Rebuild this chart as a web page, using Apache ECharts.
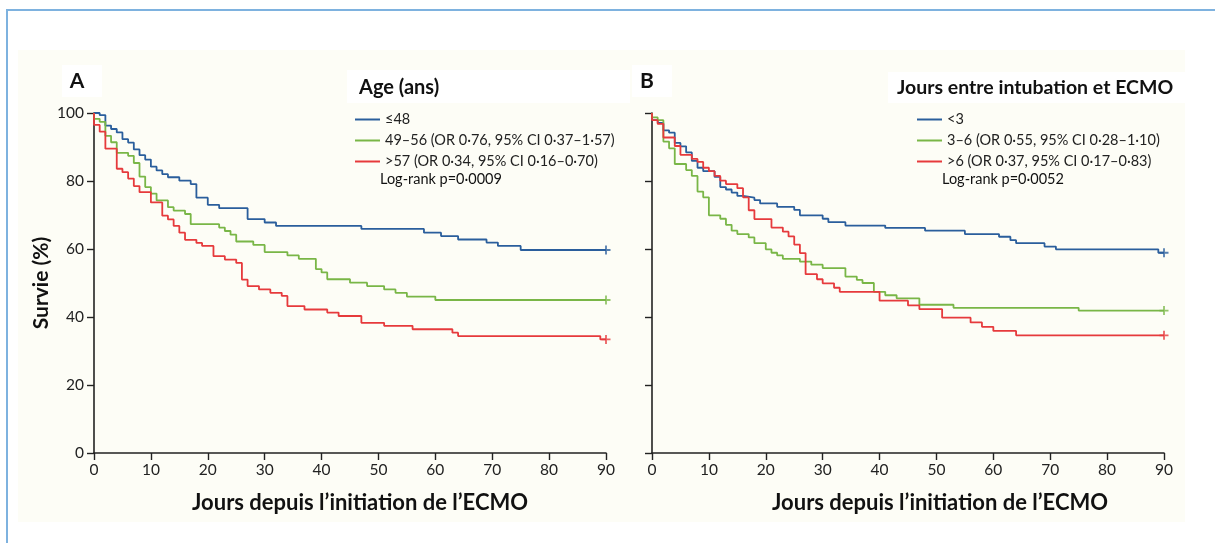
<!DOCTYPE html>
<html>
<head>
<meta charset="utf-8">
<script src="https://cdn.jsdelivr.net/npm/echarts@6/dist/echarts.min.js"></script>
<style>
html,body{margin:0;padding:0;background:#fff;}
#chart{width:1215px;height:543px;}
</style>
</head>
<body>
<div id="chart"></div>
<script>
// ---------- Panel A : Age (ans) ----------
const ageLe48Days  = [0, 1, 2, 3, 4, 5, 6, 7, 8, 9, 10, 11, 12, 13, 15, 17, 18, 20, 22, 27, 30, 32, 47, 58, 61, 64, 69, 71, 75, 90];
const ageLe48Surv  = [100, 99.4, 96.3, 95.3, 94.3, 92.3, 91.3, 89.3, 87.6, 86.3, 84.2, 83.1, 82.0, 81.1, 80.1, 79.1, 75.1, 73.0, 72.0, 68.8, 67.8, 66.8, 65.9, 64.8, 63.8, 62.8, 61.9, 60.9, 59.7, 59.7];

const age4956Days  = [0, 0, 1, 2, 3, 4, 6, 7, 8, 9, 10, 11, 13, 14, 16, 17, 22, 23, 24, 25, 28, 30, 34, 36, 39, 40, 41, 45, 48, 51, 53, 55, 60, 90];
const age4956Surv  = [100, 98.3, 97.4, 93.3, 91.4, 88.3, 87.4, 85.3, 81.3, 78.2, 76.3, 74.3, 72.3, 71.3, 70.3, 67.3, 66.3, 65.3, 64.2, 62.2, 61.2, 59.1, 58.1, 57.1, 54.1, 53.1, 51.1, 50.1, 49.1, 48.1, 47.1, 46.0, 45.0, 45.0];

const ageGt57Days  = [0, 0, 1, 2, 4, 5, 6, 7, 8, 10, 12, 13, 14, 15, 16, 18, 19, 21, 23, 25, 26, 27, 29, 31, 33, 34, 37, 41, 43, 47, 51, 56, 63, 64, 89, 90];
const ageGt57Surv  = [100, 96.5, 94.5, 89.5, 83.6, 82.6, 80.7, 78.5, 76.7, 73.7, 69.8, 68.7, 66.8, 64.8, 62.7, 61.8, 60.9, 57.9, 56.9, 55.9, 51.0, 49.1, 48.1, 47.1, 46.2, 43.2, 42.2, 41.3, 40.3, 38.3, 37.4, 36.4, 35.4, 34.4, 33.4, 33.4];

// ---------- Panel B : Jours entre intubation et ECMO ----------
const intLt3Days   = [0, 0, 1, 2, 3, 4, 5, 6, 7, 8, 9, 11, 12, 13, 14, 15, 16, 18, 19, 22, 25, 26, 30, 31, 34, 41, 48, 55, 61, 63, 64, 69, 71, 89, 90];
const intLt3Surv   = [100, 97.9, 97.1, 94.9, 94.2, 91.2, 90.2, 88.4, 85.9, 83.9, 82.9, 81.2, 78.2, 77.5, 76.6, 75.6, 75.1, 74.4, 73.4, 72.4, 71.5, 69.9, 68.9, 67.9, 66.9, 66.2, 65.4, 64.4, 63.6, 62.6, 61.7, 60.7, 59.9, 58.9, 58.9];

const int36Days    = [0, 0, 1, 2, 3, 4, 6, 7, 8, 9, 10, 12, 13, 14, 15, 17, 18, 20, 21, 22, 23, 26, 28, 30, 34, 36, 37, 39, 41, 43, 47, 53, 75, 90];
const int36Surv    = [100, 98.7, 97.9, 91.6, 89.6, 85.0, 83.2, 81.5, 76.9, 75.2, 69.9, 68.9, 67.1, 65.4, 64.4, 63.4, 61.7, 59.9, 58.9, 58.1, 57.1, 56.3, 55.4, 54.4, 51.9, 50.9, 50.0, 47.4, 46.4, 45.5, 43.6, 42.7, 41.9, 41.9];

const intGt6Days   = [0, 0, 1, 2, 4, 5, 7, 8, 9, 10, 11, 12, 13, 15, 16, 17, 18, 21, 23, 24, 25, 26, 27, 29, 30, 32, 33, 40, 45, 47, 51, 56, 58, 60, 64, 90];
const intGt6Surv   = [100, 97.9, 96.8, 92.8, 90.3, 87.7, 86.5, 85.6, 83.9, 82.9, 81.5, 80.1, 79.1, 77.9, 75.2, 71.4, 68.8, 66.3, 65.1, 63.7, 61.3, 58.8, 52.6, 51.1, 49.9, 48.6, 47.4, 44.8, 43.4, 42.3, 39.8, 38.4, 37.1, 35.9, 34.6, 34.6];

// ---------- names / texts ----------
const namesA = ['≤48', '49–56 (OR 0·76, 95% CI 0·37–1·57)', '>57 (OR 0·34, 95% CI 0·16–0·70)'];
const namesB = ['<3', '3–6 (OR 0·55, 95% CI 0·28–1·10)', '>6 (OR 0·37, 95% CI 0·17–0·83)'];
const legendTitleA = 'Age (ans)';
const legendTitleB = 'Jours entre intubation et ECMO';
const logRankA = 'Log-rank p=0·0009';
const logRankB = 'Log-rank p=0·0052';
const xTitle = 'Jours depuis l’initiation de l’ECMO';
const yTitle = 'Survie (%)';
const dayMin = 0, dayMax = 90, dayStep = 10;
const survMin = 0, survMax = 100, survStep = 20;

const colors = ['#2a5e9c', '#79b647', '#e63a3c'];
const FONT = 'Lato';

const zip = (a, b) => a.map((v, i) => [v, b[i]]);
const plusPath = 'path://M4,0H6V4H10V6H6V10H4V6H0V4H4Z';

function km(name, days, surv, idx, color) {
  return {
    name: name, type: 'line', step: 'end',
    xAxisIndex: idx, yAxisIndex: idx,
    data: zip(days, surv),
    showSymbol: false, symbol: 'none',
    lineStyle: { color: color, width: 1.8 },
    itemStyle: { color: color },
    z: 3
  };
}
function censor(days, surv, idx, color) {
  const n = days.length - 1;
  return {
    name: 'censor', type: 'scatter',
    xAxisIndex: idx, yAxisIndex: idx,
    data: [[days[n], surv[n]]],
    symbol: plusPath, symbolSize: 9,
    itemStyle: { color: color }, silent: true, z: 4
  };
}

function xAxis(idx, padLeft) {
  return {
    type: 'value', gridIndex: idx, min: dayMin, max: dayMax, interval: dayStep,
    splitLine: { show: false },
    axisLine: { show: true, onZero: false, lineStyle: { color: '#222', width: 1.6 } },
    axisTick: { show: true, inside: false, length: 7, lineStyle: { color: '#222', width: 1.4 } },
    axisLabel: { color: '#222', fontFamily: FONT, fontSize: 15.5, margin: 9 },
    name: xTitle, nameLocation: 'middle', nameGap: 39,
    nameTextStyle: { fontFamily: FONT, fontWeight: 'bold', fontSize: 22, color: '#111', padding: [0, 0, 0, padLeft] }
  };
}
function yAxis(idx, showLabels) {
  return {
    type: 'value', gridIndex: idx, min: survMin, max: survMax, interval: survStep,
    splitLine: { show: false },
    axisLine: { show: true, onZero: false, lineStyle: { color: '#222', width: 1.6 } },
    axisTick: { show: true, inside: false, length: 7, lineStyle: { color: '#222', width: 1.4 } },
    axisLabel: { show: showLabels, color: '#222', fontFamily: FONT, fontSize: 15.5, margin: 10 },
    name: showLabels ? yTitle : '', nameLocation: 'middle', nameGap: 42, nameRotate: 90,
    nameTextStyle: { fontFamily: FONT, fontWeight: 'bold', fontSize: 21, color: '#111' }
  };
}
function legend(left, names) {
  return {
    left: left, top: 104, orient: 'vertical', selectedMode: false,
    data: names, icon: 'rect', itemWidth: 25, itemHeight: 2, itemGap: 0,
    textStyle: { fontFamily: FONT, fontSize: 14.5, color: '#222', lineHeight: 21 }
  };
}
function txt(x, y, text, size, bold, align) {
  return { type: 'text', x: x, y: y, z: 10,
    style: { text: text, fill: '#111', font: (bold ? 'bold ' : '') + size + 'px ' + FONT,
      textAlign: align || 'left', textVerticalAlign: 'middle' } };
}
function box(x, y, w, h, fill) {
  return { type: 'rect', z: -90, shape: { x: x, y: y, width: w, height: h }, style: { fill: fill } };
}

const chart = echarts.init(document.getElementById('chart'), null, { renderer: 'canvas' });
chart.setOption({
  animation: false,
  backgroundColor: '#ffffff',
  grid: [
    { left: 94, top: 113, width: 512, height: 340 },
    { left: 652, top: 113, width: 512, height: 340 }
  ],
  xAxis: [xAxis(0, 20), xAxis(1, 64)],
  yAxis: [yAxis(0, true), yAxis(1, false)],
  legend: [legend(350, namesA), legend(912, namesB)],
  graphic: [
    { type: 'rect', z: -100, shape: { x: 7, y: 10, width: 1400, height: 700 },
      style: { fill: 'none', stroke: '#7eb2df', lineWidth: 2 } },
    box(18, 50, 1167, 472, '#fdfdf6'),
    box(62, 65, 40, 32, '#ffffff'),
    box(347, 70, 283, 33, '#ffffff'),
    box(632, 65, 40, 32, '#ffffff'),
    box(888, 72, 299, 31, '#ffffff'),
    txt(77, 81, 'A', 21, true, 'center'),
    txt(647, 81, 'B', 21, true, 'center'),
    txt(359, 88, legendTitleA, 20, true),
    txt(897, 88, legendTitleB, 19.5, true),
    txt(380, 179, logRankA, 14.5, false),
    txt(942, 179, logRankB, 14.5, false)
  ],
  series: [
    km(namesA[0], ageLe48Days, ageLe48Surv, 0, colors[0]),
    km(namesA[1], age4956Days, age4956Surv, 0, colors[1]),
    km(namesA[2], ageGt57Days, ageGt57Surv, 0, colors[2]),
    censor(ageLe48Days, ageLe48Surv, 0, colors[0]),
    censor(age4956Days, age4956Surv, 0, colors[1]),
    censor(ageGt57Days, ageGt57Surv, 0, colors[2]),
    km(namesB[0], intLt3Days, intLt3Surv, 1, colors[0]),
    km(namesB[1], int36Days, int36Surv, 1, colors[1]),
    km(namesB[2], intGt6Days, intGt6Surv, 1, colors[2]),
    censor(intLt3Days, intLt3Surv, 1, colors[0]),
    censor(int36Days, int36Surv, 1, colors[1]),
    censor(intGt6Days, intGt6Surv, 1, colors[2])
  ]
});
</script>
</body>
</html>
